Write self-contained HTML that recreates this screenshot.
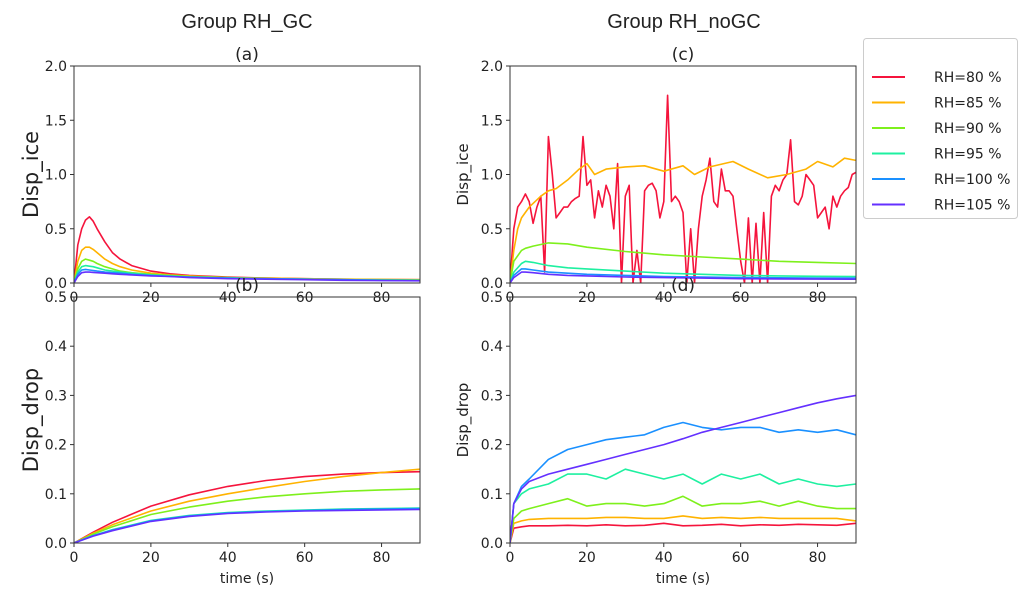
<!DOCTYPE html>
<html><head><meta charset="utf-8"><style>
body{margin:0;background:#fff;}
svg text{font-family:"DejaVu Sans","Liberation Sans",sans-serif;fill:#222;}
</style></head><body>
<svg id="chart" width="1019" height="596" xmlns="http://www.w3.org/2000/svg">
<text x="247" y="28" font-size="20" text-anchor="middle" style="font-family:'Liberation Sans',sans-serif">Group RH_GC</text>
<text x="684" y="28" font-size="20" text-anchor="middle" style="font-family:'Liberation Sans',sans-serif">Group RH_noGC</text>
<g id="plots"></g>
<g>
<rect x="863.5" y="38.5" width="154" height="180" rx="3" fill="#fff" stroke="#ccc"/>
<g id="legend-items"></g>
</g>
</svg>
<script>
const colors=["#f5143c","#ffb300","#7ef01c","#1ef0a0","#1a90ff","#6430ff"];
const labels=["RH=80 %","RH=85 %","RH=90 %","RH=95 %","RH=100 %","RH=105 %"];
const tA=[0,1,2,3,4,5,6,8,10,12,15,20,25,30,40,50,60,70,80,90];
const a0=[0,0.35,0.5,0.58,0.61,0.57,0.5,0.38,0.28,0.22,0.16,0.11,0.085,0.07,0.055,0.045,0.04,0.035,0.032,0.03];
const a1=[0,0.2,0.3,0.33,0.33,0.31,0.28,0.22,0.18,0.15,0.12,0.09,0.075,0.065,0.05,0.045,0.04,0.035,0.033,0.03];
const a2=[0,0.13,0.2,0.22,0.21,0.2,0.18,0.15,0.13,0.11,0.095,0.08,0.07,0.06,0.05,0.04,0.035,0.03,0.03,0.028];
const a3=[0,0.1,0.15,0.16,0.155,0.15,0.14,0.12,0.11,0.1,0.09,0.075,0.065,0.055,0.045,0.04,0.035,0.03,0.028,0.025];
const a4=[0,0.08,0.12,0.125,0.12,0.115,0.11,0.1,0.095,0.09,0.08,0.07,0.06,0.055,0.045,0.04,0.035,0.03,0.025,0.022];
const a5=[0,0.06,0.095,0.1,0.1,0.098,0.095,0.09,0.085,0.08,0.075,0.065,0.06,0.05,0.04,0.035,0.03,0.025,0.022,0.02];
const tB=[0,5,10,20,30,40,50,60,70,80,90];
const b0=[0,0.022,0.042,0.075,0.098,0.115,0.127,0.135,0.14,0.143,0.145];
const b1=[0,0.02,0.037,0.065,0.085,0.1,0.113,0.125,0.135,0.143,0.15];
const b2=[0,0.018,0.033,0.058,0.073,0.085,0.094,0.1,0.105,0.108,0.11];
const b3=[0,0.015,0.027,0.046,0.056,0.062,0.065,0.067,0.069,0.07,0.071];
const b4=[0,0.015,0.026,0.045,0.055,0.061,0.064,0.066,0.068,0.069,0.07];
const b5=[0,0.014,0.025,0.044,0.054,0.06,0.063,0.065,0.066,0.067,0.068];
const tCr=Array.from({length:91},(_,i)=>i);
const c0=[0,0.5,0.7,0.75,0.82,0.75,0.55,0.7,0.8,0.1,1.35,1.0,0.6,0.65,0.7,0.7,0.75,0.78,0.8,1.35,0.9,0.95,0.6,0.85,0.7,0.9,0.8,0.5,1.1,0.0,0.8,0.9,0.0,0.3,0.0,0.85,0.9,0.92,0.85,0.6,0.75,1.73,0.75,0.8,0.75,0.65,0.0,0.5,0.0,0.5,0.8,0.95,1.15,0.75,0.7,1.05,0.85,0.85,0.8,0.5,0.2,0.0,0.6,0.0,0.55,0.0,0.65,0.0,0.8,0.9,0.85,0.95,1.0,1.32,0.75,0.72,0.8,1.0,0.95,0.9,0.6,0.65,0.7,0.5,0.8,0.7,0.8,0.85,0.88,1.0,1.02];
const tC1=[0,1,2,3,5,8,10,12,15,18,20,22,25,30,35,40,45,48,52,58,62,67,72,77,80,84,87,90];
const c1=[0,0.3,0.5,0.6,0.7,0.8,0.85,0.87,0.95,1.05,1.1,1.0,1.05,1.07,1.08,1.03,1.08,1.0,1.07,1.12,1.05,0.97,1.0,1.05,1.12,1.07,1.15,1.13];
const tC=[0,1,3,4,6,10,15,20,30,40,50,60,70,80,90];
const c2=[0,0.2,0.3,0.32,0.34,0.37,0.36,0.33,0.29,0.26,0.24,0.22,0.2,0.19,0.18];
const c3=[0,0.1,0.18,0.2,0.19,0.16,0.14,0.13,0.11,0.09,0.08,0.07,0.065,0.062,0.06];
const c4=[0,0.07,0.13,0.13,0.12,0.1,0.09,0.08,0.07,0.06,0.055,0.05,0.048,0.046,0.045];
const c5=[0,0.05,0.1,0.1,0.095,0.08,0.07,0.065,0.055,0.05,0.045,0.04,0.038,0.036,0.035];
const tD=[0,1,3,5,10,15,20,25,30,35,40,45,50,55,60,65,70,75,80,85,90];
const d0=[0,0.03,0.033,0.035,0.035,0.036,0.035,0.037,0.035,0.036,0.04,0.035,0.036,0.038,0.035,0.037,0.036,0.038,0.037,0.036,0.04];
const d1=[0,0.04,0.045,0.048,0.05,0.05,0.05,0.052,0.052,0.05,0.05,0.055,0.05,0.052,0.05,0.052,0.05,0.05,0.05,0.05,0.045];
const d2=[0,0.05,0.065,0.07,0.08,0.09,0.075,0.08,0.08,0.075,0.08,0.095,0.075,0.08,0.08,0.085,0.075,0.085,0.075,0.07,0.07];
const d3=[0,0.08,0.1,0.11,0.12,0.14,0.14,0.13,0.15,0.14,0.13,0.14,0.12,0.14,0.13,0.14,0.12,0.13,0.12,0.115,0.12];
const d4=[0,0.08,0.115,0.13,0.17,0.19,0.2,0.21,0.215,0.22,0.235,0.245,0.235,0.23,0.235,0.235,0.225,0.23,0.225,0.23,0.22];
const d5=[0,0.08,0.11,0.125,0.14,0.15,0.16,0.17,0.18,0.19,0.2,0.212,0.225,0.235,0.245,0.255,0.265,0.275,0.285,0.293,0.3];
const yTicksTop=["0.0","0.5","1.0","1.5","2.0"];
const yTicksBot=["0.0","0.1","0.2","0.3","0.4","0.5"];
const xTicks=[0,20,40,60,80];

const NS="http://www.w3.org/2000/svg";
const plots=document.getElementById('plots');
function mk(tag,attrs,parent){const e=document.createElementNS(NS,tag);for(const k in attrs)e.setAttribute(k,attrs[k]);parent.appendChild(e);return e;}
function panel(id,L,T,R,B,ymax,yt,title,ylabel,ylfs,xl,series){
  const g=mk('g',{},plots);
  
  
  const sx=v=>L+v/90*(R-L), sy=v=>B-v/ymax*(B-T);
  const clip=mk('clipPath',{id:'clip'+id},g);mk('rect',{x:L,y:T,width:R-L,height:B-T},clip);
  const sg=mk('g',{'clip-path':'url(#clip'+id+')'},g);
  series.forEach((s,i)=>{
    const d=s[0].map((t,j)=>(j?'L':'M')+sx(t).toFixed(1)+','+sy(s[1][j]).toFixed(1)).join('');
    const p=mk('path',{d:d,fill:'none',stroke:colors[i],'stroke-width':1.6,'stroke-linejoin':'round'},sg);
    
    
  });
  mk('rect',{x:L,y:T,width:R-L,height:B-T,fill:'none',stroke:'#333','stroke-width':1},g);
  yt.forEach((lab,i)=>{const y=sy(parseFloat(lab));
    mk('line',{x1:L-4,x2:L,y1:y,y2:y,stroke:'#333'},g);
    const t=mk('text',{x:L-7,y:y+5,'font-size':14,'text-anchor':'end'},g);t.textContent=lab;
    
    });
  xTicks.forEach(v=>{const x=sx(v);
    mk('line',{x1:x,x2:x,y1:B,y2:B+4,stroke:'#333'},g);
    const t=mk('text',{x:x,y:B+19,'font-size':14,'text-anchor':'middle'},g);t.textContent=v;
    
    });
  const tt=mk('text',{x:(L+R)/2,y:T-6,'font-size':17,'text-anchor':'middle'},g);tt.textContent=title;
  
  
  const yl=mk('text',{transform:`translate(${ylabel[1]},${(T+B)/2}) rotate(-90)`,'font-size':ylfs,'text-anchor':'middle'},g);yl.textContent=ylabel[0];
  
  
  if(xl){const x=mk('text',{x:(L+R)/2,y:B+40,'font-size':14,'text-anchor':'middle'},g);x.textContent='time (s)';
    
    }
}
panel('a',74,66,420,283,2,yTicksTop,'(a)',['Disp_ice',38],21,false,[[tA,a5],[tA,a4],[tA,a3],[tA,a2],[tA,a1],[tA,a0]].reverse());
panel('b',74,297,420,543,0.5,yTicksBot,'(b)',['Disp_drop',38],21,true,[[tB,b0],[tB,b1],[tB,b2],[tB,b3],[tB,b4],[tB,b5]]);
panel('c',510,66,856,283,2,yTicksTop,'(c)',['Disp_ice',468],15,false,[[tCr,c0],[tC1,c1],[tC,c2],[tC,c3],[tC,c4],[tC,c5]]);
panel('d',510,297,856,543,0.5,yTicksBot,'(d)',['Disp_drop',468],15,true,[[tD,d0],[tD,d1],[tD,d2],[tD,d3],[tD,d4],[tD,d5]]);
const li=document.getElementById('legend-items');
labels.forEach((l,i)=>{const y=77+i*25.5;
  const g=mk('g',{},li);
  
  
  mk('line',{x1:872,x2:905,y1:y,y2:y,stroke:colors[i],'stroke-width':2},g);
  const t=mk('text',{x:934,y:y+5,'font-size':14},g);t.textContent=l;});
</script>
</body></html>
